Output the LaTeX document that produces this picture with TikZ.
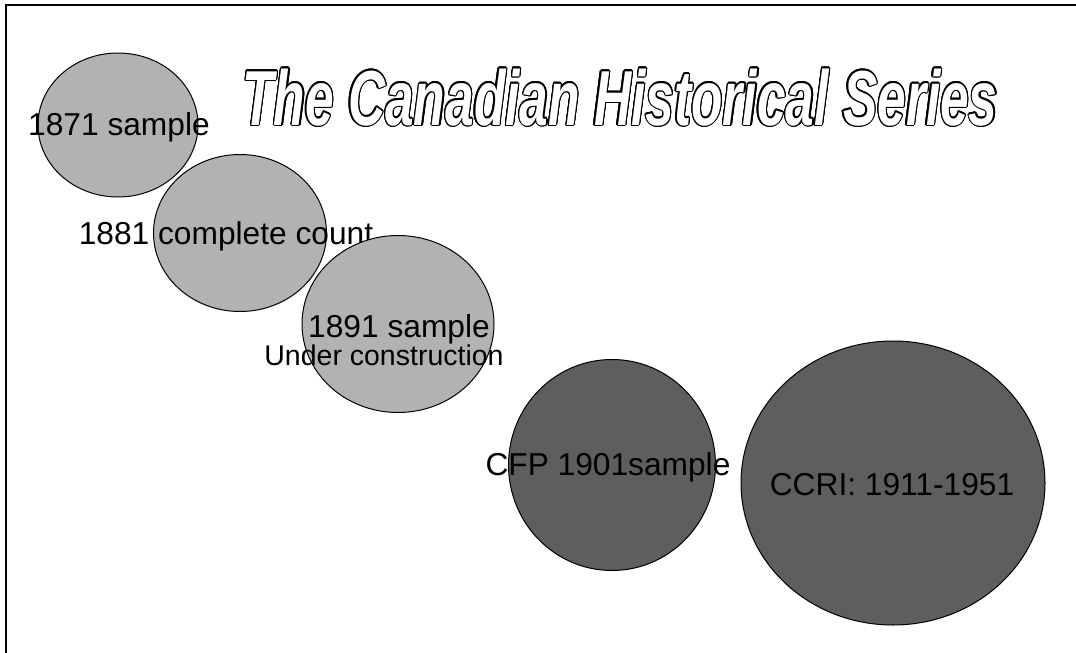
\documentclass[tikz,border=0pt]{standalone}
\usepackage{fontspec}
\setmainfont{Liberation Sans}
\usetikzlibrary{shapes.geometric}

\definecolor{paleGray}{gray}{0.70}
\definecolor{darkGray}{gray}{0.37}
\tikzset{
  oval/.style={ellipse,draw,line width=1pt,inner sep=0pt},
  lbl/.style={anchor=base,inner sep=0pt,font=\fontsize{31.7}{36}\selectfont},
}
\newcommand{\titletext}{\scalebox{0.66}[1]{\fontsize{78}{80}\selectfont\bfseries\itshape The Canadian Historical Series}}

\begin{document}
\begin{tikzpicture}[x=1pt,y=-1pt]
  \useasboundingbox (0,0) rectangle (1076,653);
  \coordinate (frameBL) at (6,653);
  \coordinate (frameTL) at (6,4.5);
  \coordinate (frameTR) at (1076,4.5);
  \draw[line width=2pt] (frameBL) -- (frameTL) -- (frameTR);
  % outlined title
  \foreach \a [count=\i] in {0,22.5,...,337.5}
    \node[anchor=base,inner sep=0pt,shift={(\a:1.3)}] (titleedge\i) at (620,125) {\titletext};
  \node[anchor=base,inner sep=0pt,text=white] (title) at (620,125) {\titletext};
  % census samples
  \node[oval,fill=paleGray,minimum width=160,minimum height=144] (c1871) at (118,125) {};
  \node[lbl] (t1871) at (119,135) {1871 sample};
  \node[oval,fill=paleGray,minimum width=173,minimum height=157] (c1881) at (240,233) {};
  \node[lbl] (t1881) at (226,244) {1881 complete count};
  \node[oval,fill=paleGray,minimum width=192,minimum height=177] (c1891) at (398,324) {};
  \node[lbl] (t1891) at (399,337) {1891 sample};
  \node[lbl,font=\fontsize{28.5}{32}\selectfont] (t1891b) at (384,365) {Under construction};
  \node[oval,fill=darkGray,minimum width=207,minimum height=211] (c1901) at (612,465) {};
  \node[lbl] (t1901) at (608,475) {CFP 1901sample};
  \node[oval,fill=darkGray,minimum width=304,minimum height=284] (cCCRI) at (893,483) {};
  \node[lbl] (tCCRI) at (892,495) {CCRI: 1911-1951};
\end{tikzpicture}
\end{document}
